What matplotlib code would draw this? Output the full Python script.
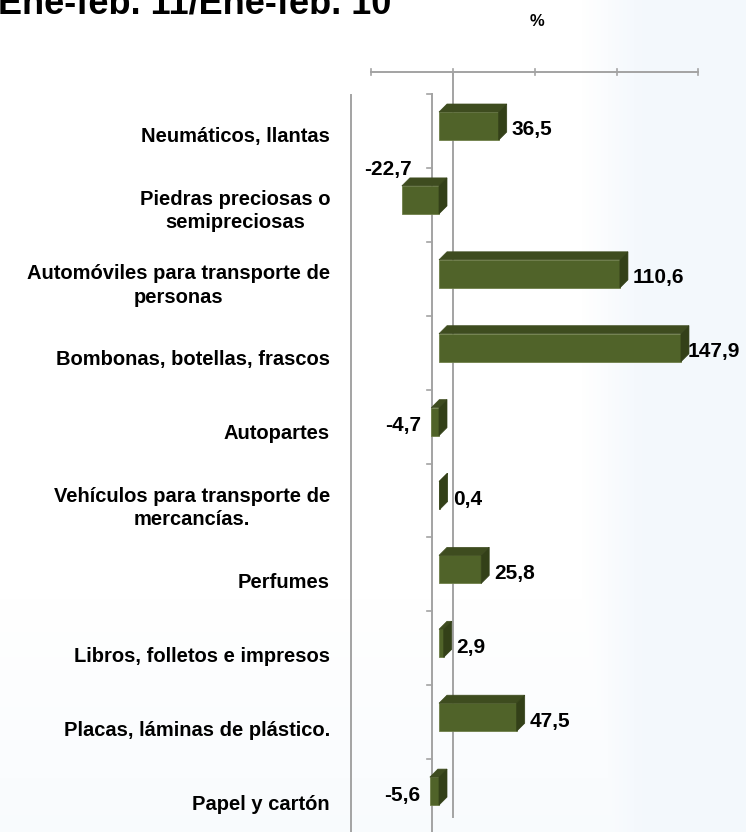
import numpy as np
import matplotlib.pyplot as plt
from matplotlib.patches import Polygon

categorias = [
    "Neumáticos, llantas",
    "Piedras preciosas o\nsemipreciosas",
    "Automóviles para transporte de\npersonas",
    "Bombonas, botellas, frascos",
    "Autopartes",
    "Vehículos para transporte de\nmercancías.",
    "Perfumes",
    "Libros, folletos e impresos",
    "Placas, láminas de plástico.",
    "Papel y cartón",
]
variacion = [36.5, -22.7, 110.6, 147.9, -4.7, 0.4, 25.8, 2.9, 47.5, -5.6]
ticks_x = [-50, 0, 50, 100, 150]

titulo = "Ene-feb. 11/Ene-feb. 10"

W, H = 746, 832
# escala de pixeles del grafico original
X0_PX = 439      # cero de la cara frontal
PX_UNIT = 1.636  # pixeles por punto porcentual
Y0_PX = 126      # centro de la primera barra
PX_CAT = 73.9    # pixeles por categoria
DX = 1 / PX_UNIT
DY = 1 / PX_CAT


def px2x(px):
    return (px - X0_PX) * DX


def py2y(py):
    return (py - Y0_PX) * DY


front = "#506329"
top = "#3e4c1f"
side = "#334018"
grey = "#a3a3a3"

plt.rcParams['font.family'] = ['Liberation Sans', 'DejaVu Sans']

fig = plt.figure(figsize=(W / 100, H / 100), dpi=100)

# fondo claro azulado
bg = fig.add_axes([0, 0, 1, 1], zorder=-1)
gx = np.linspace(0, 1, 200)
gy = np.linspace(0, 1, 200)
GX, GY = np.meshgrid(gx, gy)
tint = np.clip((GX - 0.78) * 12, 0, 1) * 0.9
tint = np.maximum(tint, np.clip((GY - 0.72) * 3, 0, 1) * 0.6)
img = np.ones((200, 200, 3))
img[..., 0] = 1 - tint * 0.05
img[..., 1] = 1 - tint * 0.03
img[..., 2] = 1 - tint * 0.01
bg.imshow(img, extent=[0, 1, 0, 1], aspect='auto', origin='upper')
bg.axis('off')

ax = fig.add_axes([0, 0, 1, 1])
ax.set_xlim(px2x(0), px2x(W))
ax.set_ylim(py2y(H), py2y(0))
ax.axis('off')
ax.patch.set_alpha(0)

back = 14 * DX  # desplazamiento de la pared del fondo

# eje superior de valores
y_axis = py2y(72)
ax.plot([ticks_x[0] + back, ticks_x[-1] + back], [y_axis, y_axis],
        color=grey, lw=1.4, zorder=1)
for t in ticks_x:
    ax.plot([t + back, t + back], [y_axis - 3 * DY, y_axis + 3 * DY],
            color=grey, lw=1.2, zorder=1)
# linea del cero en el fondo
ax.plot([back, back], [y_axis, py2y(817)], color=grey, lw=1.4, zorder=1)

# eje de categorias y pared izquierda
ax.plot([px2x(432), px2x(432)], [py2y(94), py2y(H)], color=grey, lw=1.4,
        zorder=1)
ax.plot([px2x(351), px2x(351)], [py2y(95), py2y(H)], color=grey, lw=1.4,
        zorder=1)
for k in range(len(categorias) + 1):
    yk = py2y(94) + k * (PX_CAT * DY)
    ax.plot([px2x(427), px2x(432)], [yk, yk], color=grey, lw=1.2, zorder=1)

# barras con efecto 3D
h = 28 * DY
ddx = 8 * DX
ddy = -8 * DY
for i, v in enumerate(variacion):
    lo, hi = min(0, v), max(0, v)
    ax.barh(i, v, height=h, color=front, edgecolor="#6f7f4a", lw=0.6,
            zorder=3)
    yt = i - h / 2
    yb = i + h / 2
    ax.add_patch(Polygon([(lo, yt), (hi, yt), (hi + ddx, yt + ddy),
                          (lo + ddx, yt + ddy)], closed=True,
                         facecolor=top, edgecolor=top, lw=0.5, zorder=3))
    ax.add_patch(Polygon([(hi, yt), (hi, yb), (hi + ddx, yb + ddy),
                          (hi + ddx, yt + ddy)], closed=True,
                         facecolor=side, edgecolor=side, lw=0.5, zorder=3))

    txt = "{:.1f}".format(v).replace(".", ",")
    if v >= 0:
        x = min(v + 13 * DX, px2x(688))
        ax.text(x, i + 4 * DY, txt, ha='left', va='center', fontsize=15,
                fontweight='bold', zorder=4)
    elif v < -10:
        ax.text(v + 10 * DX, i - 30 * DY, txt, ha='right', va='center',
                fontsize=15, fontweight='bold', zorder=4)
    else:
        ax.text(v - 10 * DX, i + 4 * DY, txt, ha='right', va='center',
                fontsize=15, fontweight='bold', zorder=4)

# etiquetas de categorias
for i, c in enumerate(categorias):
    yl = py2y(137) + i * (74.2 / PX_CAT)
    ax.text(px2x(330), yl, c, ha='right', va='center', multialignment='center',
            fontsize=14.5, fontweight='bold', linespacing=1.3)

fig.text(-2 / W, 1 - 13 / H, titulo, ha='left', va='baseline', fontsize=26,
         fontweight='bold')
fig.text(537 / W, 1 - 21 / H, "%", ha='center', va='center', fontsize=12,
         fontweight='bold')

fig.savefig("out.png", dpi=100)
